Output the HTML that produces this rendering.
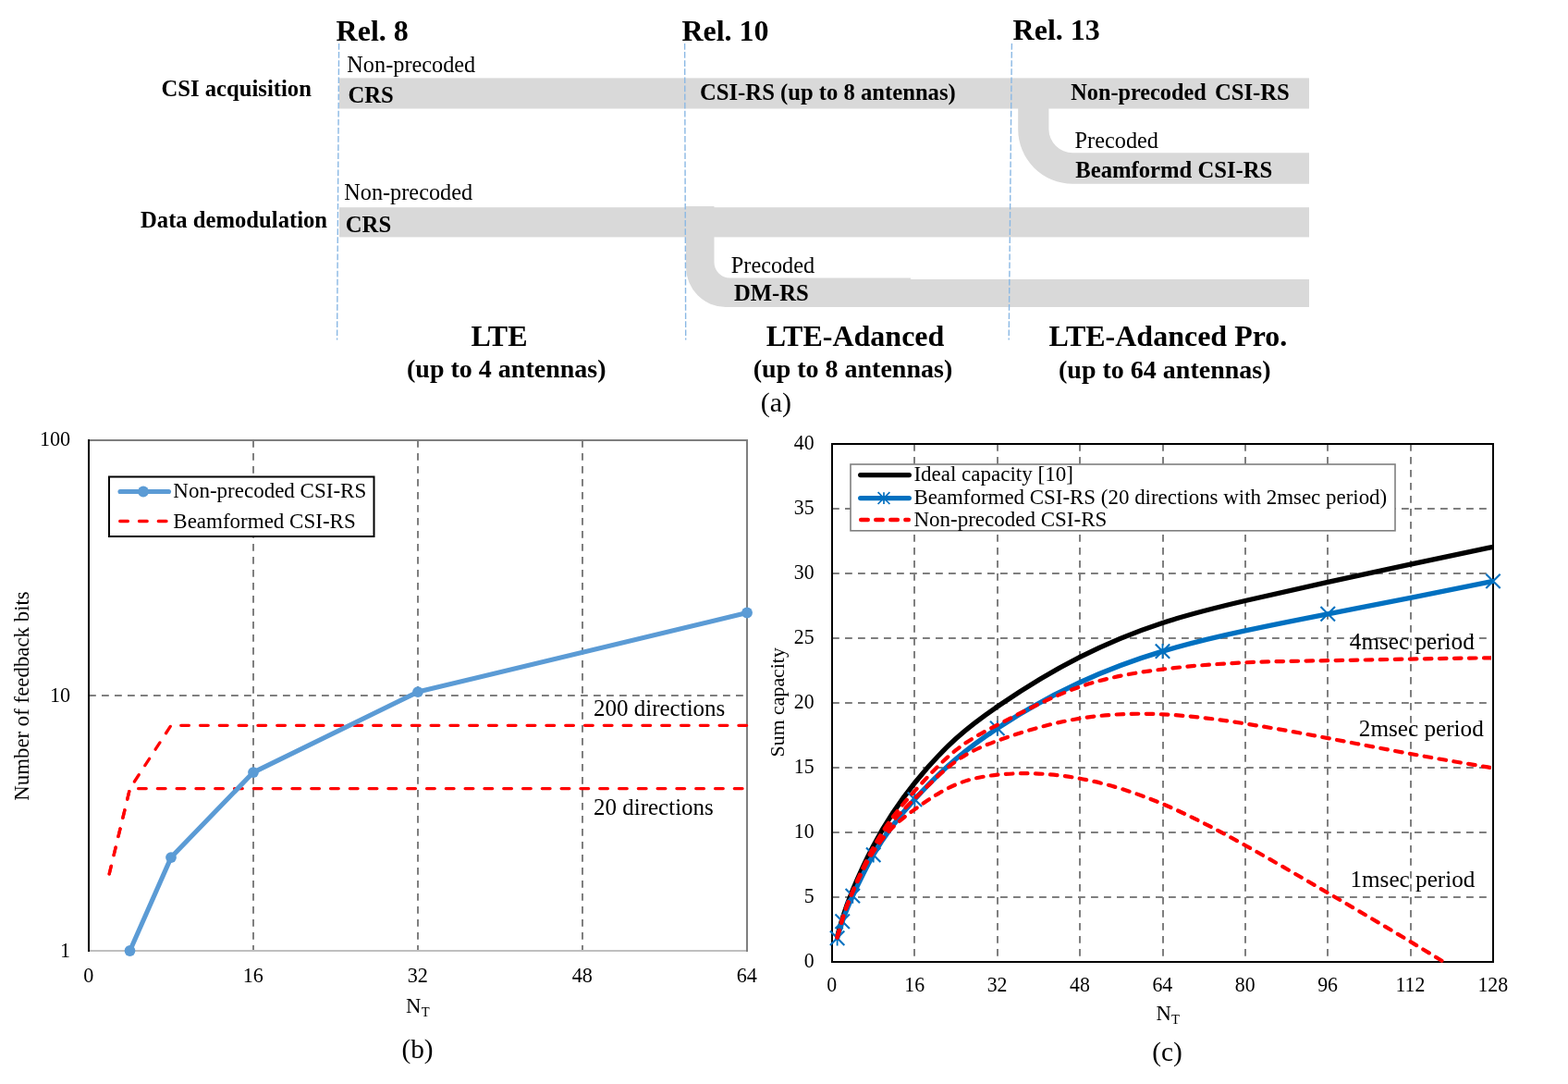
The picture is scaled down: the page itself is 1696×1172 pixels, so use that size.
<!DOCTYPE html>
<html lang="en">
<head>
<meta charset="utf-8">
<title>Reference signals in LTE, LTE-Advanced and LTE-Advanced Pro</title>
<style>
html,body{margin:0;padding:0;background:#fff;}
body{width:1696px;height:1172px;overflow:hidden;}
svg{display:block;font-family:"Liberation Serif", "DejaVu Serif", serif;fill:#000;}
text{white-space:pre;}
</style>
</head>
<body>
<svg width="1696" height="1172" viewBox="0 0 1696 1172" role="img" aria-label="Evolution of LTE reference signals, feedback bits and sum capacity charts">
<rect x="0" y="0" width="1696" height="1172" fill="#ffffff"/>
<g id="panel-a">
<rect x="367" y="84.4" width="1049" height="33.1" fill="#d9d9d9"/>
<path d="M1101.2,117 V139.7 A59,59 0 0 0 1160.2,198.7 H1416 V165.3 H1160.2 A26,26 0 0 1 1134.4,139.7 V117 Z" fill="#d9d9d9"/>
<rect x="367" y="224.2" width="1049" height="32.2" fill="#d9d9d9"/>
<path d="M742,223 H772.5 V283.5 A17,17 0 0 0 789.5,300.6 H985 V302 H1416 V331.9 H785 A43,43 0 0 1 742,288.9 Z" fill="#d9d9d9"/>
<line x1="366.6" y1="47" x2="364.6" y2="367.5" stroke="#8ab8e4" stroke-width="1.4" stroke-dasharray="6.7 2.4"/>
<line x1="740.6" y1="47" x2="741.7" y2="367.5" stroke="#8ab8e4" stroke-width="1.4" stroke-dasharray="6.7 2.4"/>
<line x1="1094.4" y1="47" x2="1091.2" y2="367.5" stroke="#8ab8e4" stroke-width="1.4" stroke-dasharray="6.7 2.4"/>
<text x="363.60" y="44.40" font-size="32" font-weight="bold">Rel. 8</text>
<text x="737.40" y="44.40" font-size="32" font-weight="bold">Rel. 10</text>
<text x="1095.60" y="42.50" font-size="32" font-weight="bold">Rel. 13</text>
<text x="174.50" y="103.80" font-size="24.67" font-weight="bold">CSI acquisition</text>
<text x="152.00" y="245.60" font-size="24.67" font-weight="bold">Data demodulation</text>
<text x="375.30" y="77.50" font-size="24.3">Non-precoded</text>
<text x="376.40" y="110.60" font-size="24.67" font-weight="bold">CRS</text>
<text x="757.00" y="107.50" font-size="24.67" font-weight="bold">CSI-RS (up to 8 antennas)</text>
<text x="1158.3" y="107.5" font-size="24.25" font-weight="bold">Non-precoded <tspan x="1313.9" font-size="24.67">CSI-RS</tspan></text>
<text x="1162.60" y="160.00" font-size="24.3">Precoded</text>
<text x="1163.30" y="191.90" font-size="24.67" font-weight="bold">Beamformd CSI-RS</text>
<text x="372.20" y="216.20" font-size="24.3">Non-precoded</text>
<text x="373.80" y="251.20" font-size="24.67" font-weight="bold">CRS</text>
<text x="790.80" y="295.00" font-size="24.3">Precoded</text>
<text x="794.00" y="325.00" font-size="24.67" font-weight="bold">DM-RS</text>
<text x="540.00" y="373.80" font-size="32" font-weight="bold" text-anchor="middle">LTE</text>
<text x="547.80" y="407.50" font-size="28" font-weight="bold" text-anchor="middle">(up to 4 antennas)</text>
<text x="925.00" y="373.80" font-size="32" font-weight="bold" text-anchor="middle">LTE-Adanced</text>
<text x="922.50" y="408.00" font-size="28" font-weight="bold" text-anchor="middle">(up to 8 antennas)</text>
<text x="1263.40" y="373.80" font-size="32" font-weight="bold" text-anchor="middle">LTE-Adanced Pro.</text>
<text x="1259.80" y="408.70" font-size="28" font-weight="bold" text-anchor="middle">(up to 64 antennas)</text>
<text x="839.40" y="445.00" font-size="30" text-anchor="middle">(a)</text>
</g>
<g id="panel-b">
<line x1="274.0" y1="476.0" x2="274.0" y2="1028.0" stroke="#7f7f7f" stroke-width="2" stroke-dasharray="7.8 6.2"/>
<line x1="452.0" y1="476.0" x2="452.0" y2="1028.0" stroke="#7f7f7f" stroke-width="2" stroke-dasharray="7.8 6.2"/>
<line x1="630.0" y1="476.0" x2="630.0" y2="1028.0" stroke="#7f7f7f" stroke-width="2" stroke-dasharray="7.8 6.2"/>
<line x1="96.0" y1="752.0" x2="808.0" y2="752.0" stroke="#7f7f7f" stroke-width="2" stroke-dasharray="7.8 6.2"/>
<line x1="96.0" y1="1028.0" x2="808.0" y2="1028.0" stroke="#bfbfbf" stroke-width="2"/>
<polyline points="96.0,476.0 808.0,476.0 808.0,1029.0" fill="none" stroke="#7f7f7f" stroke-width="2"/>
<line x1="96.0" y1="475.0" x2="96.0" y2="1029.0" stroke="#000" stroke-width="2"/>
<polyline points="118.2,944.9 140.5,852.6 185.0,784.3 808.0,784.3" fill="none" stroke="#ff0000" stroke-width="3.3" stroke-dasharray="8.7 12.1" stroke-linecap="round" stroke-linejoin="round"/>
<polyline points="118.2,944.9 140.5,852.6 808.0,852.6" fill="none" stroke="#ff0000" stroke-width="3.3" stroke-dasharray="8.7 12.1" stroke-linecap="round" stroke-linejoin="round"/>
<polyline points="140.5,1028.0 185.0,927.1 274.0,835.1 452.0,748.1 808.0,662.5" fill="none" stroke="#5b9bd5" stroke-width="5.1" stroke-linecap="round" stroke-linejoin="round"/>
<circle cx="140.5" cy="1028.0" r="5.9" fill="#5b9bd5"/>
<circle cx="185.0" cy="927.1" r="5.9" fill="#5b9bd5"/>
<circle cx="274.0" cy="835.1" r="5.9" fill="#5b9bd5"/>
<circle cx="452.0" cy="748.1" r="5.9" fill="#5b9bd5"/>
<circle cx="808.0" cy="662.5" r="5.9" fill="#5b9bd5"/>
<rect x="118" y="515.5" width="286.5" height="64.5" fill="#fff" stroke="#000" stroke-width="2"/>
<line x1="130" y1="531.5" x2="182.5" y2="531.5" stroke="#5b9bd5" stroke-width="5.1" stroke-linecap="round"/>
<circle cx="155" cy="531.5" r="5.9" fill="#5b9bd5"/>
<line x1="129.7" y1="563.5" x2="180.4" y2="563.5" stroke="#ff0000" stroke-width="3.3" stroke-dasharray="8.7 12.1" stroke-linecap="round"/>
<text x="187.30" y="537.50" font-size="23">Non-precoded CSI-RS</text>
<text x="187.30" y="570.50" font-size="23">Beamformed CSI-RS</text>
<text x="642.00" y="773.80" font-size="25">200 directions</text>
<text x="642.00" y="880.60" font-size="25">20 directions</text>
<text transform="translate(76.20,1034.80) scale(0.97,1)" font-size="22.9" text-anchor="end">1</text>
<text transform="translate(76.20,758.80) scale(0.97,1)" font-size="22.9" text-anchor="end">10</text>
<text transform="translate(76.20,481.90) scale(0.97,1)" font-size="22.9" text-anchor="end">100</text>
<text transform="translate(95.80,1062.30) scale(0.97,1)" font-size="22.9" text-anchor="middle">0</text>
<text transform="translate(273.80,1062.30) scale(0.97,1)" font-size="22.9" text-anchor="middle">16</text>
<text transform="translate(451.80,1062.30) scale(0.97,1)" font-size="22.9" text-anchor="middle">32</text>
<text transform="translate(629.80,1062.30) scale(0.97,1)" font-size="22.9" text-anchor="middle">48</text>
<text transform="translate(807.80,1062.30) scale(0.97,1)" font-size="22.9" text-anchor="middle">64</text>
<text x="439" y="1095" font-size="22.67">N<tspan font-size="14.6" dx="0.3" dy="4.4">T</tspan></text>
<text transform="translate(31.2,752.5) rotate(-90)" font-size="22.85" text-anchor="middle">Number of feedback bits</text>
<text x="451.50" y="1143.80" font-size="29.33" text-anchor="middle">(b)</text>
</g>
<g id="panel-c">
<line x1="989" y1="480.0" x2="989" y2="1040.0" stroke="#7f7f7f" stroke-width="2" stroke-dasharray="7.8 6.2"/>
<line x1="1079" y1="480.0" x2="1079" y2="1040.0" stroke="#7f7f7f" stroke-width="2" stroke-dasharray="7.8 6.2"/>
<line x1="1168" y1="480.0" x2="1168" y2="1040.0" stroke="#7f7f7f" stroke-width="2" stroke-dasharray="7.8 6.2"/>
<line x1="1258" y1="480.0" x2="1258" y2="1040.0" stroke="#7f7f7f" stroke-width="2" stroke-dasharray="7.8 6.2"/>
<line x1="1347" y1="480.0" x2="1347" y2="1040.0" stroke="#7f7f7f" stroke-width="2" stroke-dasharray="7.8 6.2"/>
<line x1="1436" y1="480.0" x2="1436" y2="1040.0" stroke="#7f7f7f" stroke-width="2" stroke-dasharray="7.8 6.2"/>
<line x1="1526" y1="480.0" x2="1526" y2="1040.0" stroke="#7f7f7f" stroke-width="2" stroke-dasharray="7.8 6.2"/>
<line x1="900.0" y1="970" x2="1615.0" y2="970" stroke="#7f7f7f" stroke-width="2" stroke-dasharray="7.8 6.2"/>
<line x1="900.0" y1="900" x2="1615.0" y2="900" stroke="#7f7f7f" stroke-width="2" stroke-dasharray="7.8 6.2"/>
<line x1="900.0" y1="830" x2="1615.0" y2="830" stroke="#7f7f7f" stroke-width="2" stroke-dasharray="7.8 6.2"/>
<line x1="900.0" y1="760" x2="1615.0" y2="760" stroke="#7f7f7f" stroke-width="2" stroke-dasharray="7.8 6.2"/>
<line x1="900.0" y1="690" x2="1615.0" y2="690" stroke="#7f7f7f" stroke-width="2" stroke-dasharray="7.8 6.2"/>
<line x1="900.0" y1="620" x2="1615.0" y2="620" stroke="#7f7f7f" stroke-width="2" stroke-dasharray="7.8 6.2"/>
<line x1="900.0" y1="550" x2="1615.0" y2="550" stroke="#7f7f7f" stroke-width="2" stroke-dasharray="7.8 6.2"/>
<rect x="900.0" y="480.0" width="715.0" height="560.0" fill="none" stroke="#000" stroke-width="2"/>
<clipPath id="clipc"><rect x="899" y="479" width="717" height="562"/></clipPath>
<clipPath id="clipr"><rect x="899" y="479" width="714" height="562"/></clipPath>
<g clip-path="url(#clipc)" fill="none" stroke-linecap="round" stroke-linejoin="round">
<path d="M905.59,1012.70 C907.45,1005.95 909.31,999.20 911.17,993.10 C914.90,980.90 918.62,971.32 922.34,962.30 C929.79,944.26 937.24,928.47 944.69,914.42 C959.58,886.31 974.48,865.12 989.38,846.52 C1004.27,827.92 1019.17,811.91 1034.06,798.50 C1048.96,785.09 1063.85,774.28 1078.75,764.06 C1108.54,743.62 1138.33,725.55 1168.12,710.44 C1197.92,695.33 1227.71,683.19 1257.50,673.48 C1287.29,663.77 1317.08,656.50 1346.88,649.54 C1376.67,642.58 1406.46,635.93 1436.25,629.38 C1466.04,622.83 1495.83,616.39 1525.62,610.06 C1555.42,603.73 1585.21,597.52 1615.00,591.30" stroke="#000" stroke-width="5.3"/>
<path d="M905.59,1014.24 C907.45,1007.99 909.31,1001.74 911.17,996.18 C914.90,985.06 918.62,976.70 922.34,968.60 C929.79,952.40 937.24,937.27 944.69,924.22 C959.58,898.13 974.48,880.40 989.38,864.16 C1004.27,847.92 1019.17,833.15 1034.06,820.48 C1048.96,807.81 1063.85,797.23 1078.75,787.44 C1108.54,767.86 1138.33,751.43 1168.12,737.74 C1197.92,724.05 1227.71,713.08 1257.50,704.14 C1287.29,695.20 1317.08,688.28 1346.88,681.88 C1376.67,675.48 1406.46,669.60 1436.25,663.82 C1466.04,658.04 1495.83,652.35 1525.62,646.46 C1555.42,640.57 1585.21,634.49 1615.00,628.40" stroke="#0070c0" stroke-width="5.3"/>
</g>
<path d="M897.9,1006.5 L913.3,1021.9 M897.9,1021.9 L913.3,1006.5 M903.5,988.5 L918.9,1003.9 M903.5,1003.9 L918.9,988.5 M914.6,960.9 L930.0,976.3 M914.6,976.3 L930.0,960.9 M937.0,916.5 L952.4,931.9 M937.0,931.9 L952.4,916.5 M981.7,856.5 L997.1,871.9 M981.7,871.9 L997.1,856.5 M1071.0,779.7 L1086.5,795.1 M1071.0,795.1 L1086.5,779.7 M1249.8,696.4 L1265.2,711.8 M1249.8,711.8 L1265.2,696.4 M1428.5,656.1 L1444.0,671.5 M1428.5,671.5 L1444.0,656.1 M1607.3,620.7 L1622.7,636.1 M1607.3,636.1 L1622.7,620.7" fill="none" stroke="#0070c0" stroke-width="2.1"/>
<path d="M905.6,1006.0 L905.6,1022.4 M911.2,988.0 L911.2,1004.4 M922.3,960.4 L922.3,976.8 M944.7,916.0 L944.7,932.4 M989.4,856.0 L989.4,872.4 M1078.8,779.2 L1078.8,795.6 M1257.5,695.9 L1257.5,712.3" fill="none" stroke="#0070c0" stroke-width="1.8"/>
<g clip-path="url(#clipr)" fill="none" stroke-linecap="round" stroke-linejoin="round">
<path d="M905.59,1013.40 C907.45,1006.62 909.31,999.85 911.17,993.80 C914.90,981.71 918.62,972.53 922.34,963.70 C929.79,946.04 937.24,929.78 944.69,916.10 C959.58,888.74 974.48,871.69 989.38,855.20 C1004.27,838.71 1019.17,822.76 1034.06,810.96 C1048.96,799.16 1063.85,791.50 1078.75,783.80 C1108.54,768.39 1138.33,752.79 1168.12,742.50 C1197.92,732.21 1227.71,727.25 1257.50,723.60 C1287.29,719.95 1317.08,717.63 1346.88,716.32 C1376.67,715.01 1406.46,714.71 1436.25,714.22 C1466.04,713.73 1495.83,713.06 1525.62,712.54 C1555.42,712.02 1585.21,711.65 1615.00,711.28" stroke="#ff0000" stroke-width="4.2" stroke-dasharray="7.6 8.44"/>
<path d="M905.59,1013.40 C907.45,1006.63 909.31,999.85 911.17,993.80 C914.90,981.70 918.62,972.48 922.34,963.70 C929.79,946.14 937.24,930.33 944.69,917.50 C959.58,891.85 974.48,878.14 989.38,863.60 C1004.27,849.06 1019.17,833.69 1034.06,823.00 C1048.96,812.31 1063.85,806.30 1078.75,800.88 C1108.54,790.05 1138.33,781.59 1168.12,776.80 C1197.92,772.01 1227.71,770.89 1257.50,772.32 C1287.29,773.75 1317.08,777.72 1346.88,782.40 C1376.67,787.08 1406.46,792.45 1436.25,798.08 C1466.04,803.71 1495.83,809.59 1525.62,815.02 C1555.42,820.45 1585.21,825.44 1615.00,830.42" stroke="#ff0000" stroke-width="4.2" stroke-dasharray="7.6 8.44"/>
<path d="M905.59,1013.40 C907.45,1006.61 909.31,999.82 911.17,993.80 C914.90,981.76 918.62,972.82 922.34,964.40 C929.79,947.55 937.24,932.78 944.69,921.00 C959.58,897.43 974.48,885.82 989.38,875.08 C1004.27,864.34 1019.17,854.48 1034.06,848.20 C1048.96,841.92 1063.85,839.23 1078.75,837.70 C1108.54,834.65 1138.33,836.26 1168.12,841.76 C1197.92,847.26 1227.71,856.65 1257.50,869.20 C1287.29,881.75 1317.08,897.45 1346.88,914.00 C1376.67,930.55 1406.46,947.96 1436.25,965.38 C1466.04,982.80 1495.83,1000.24 1525.62,1018.16 C1555.42,1036.08 1585.21,1054.49 1615.00,1072.90" stroke="#ff0000" stroke-width="4.2" stroke-dasharray="7.6 8.44"/>
</g>
<rect x="920" y="502" width="589" height="71.8" fill="#fff" stroke="#7f7f7f" stroke-width="1.6"/>
<line x1="930.7" y1="513.6" x2="983.3" y2="513.6" stroke="#000" stroke-width="5.3" stroke-linecap="round"/>
<line x1="930.7" y1="538.6" x2="983.3" y2="538.6" stroke="#0070c0" stroke-width="5.3" stroke-linecap="round"/>
<path d="M949.6,532.2 L962.4,545.0 M949.6,545.0 L962.4,532.2 M956.0,532.2 L956.0,545.0" fill="none" stroke="#0070c0" stroke-width="1.7"/>
<line x1="931.2" y1="562" x2="982.8" y2="562" stroke="#ff0000" stroke-width="4.4" stroke-dasharray="7.6 8.44" stroke-linecap="round"/>
<text x="988.40" y="519.80" font-size="23">Ideal capacity [10]</text>
<text x="988.40" y="544.80" font-size="22.93">Beamformed CSI-RS (20 directions with 2msec period)</text>
<text x="988.40" y="569.00" font-size="23">Non-precoded CSI-RS</text>
<text x="1459.80" y="702.40" font-size="25.2">4msec period</text>
<text x="1469.80" y="795.80" font-size="25.2">2msec period</text>
<text x="1460.40" y="959.20" font-size="25.2">1msec period</text>
<text transform="translate(880.60,1045.80) scale(0.95,1)" font-size="23" text-anchor="end">0</text>
<text transform="translate(880.60,975.80) scale(0.95,1)" font-size="23" text-anchor="end">5</text>
<text transform="translate(880.60,905.80) scale(0.95,1)" font-size="23" text-anchor="end">10</text>
<text transform="translate(880.60,835.80) scale(0.95,1)" font-size="23" text-anchor="end">15</text>
<text transform="translate(880.60,765.80) scale(0.95,1)" font-size="23" text-anchor="end">20</text>
<text transform="translate(880.60,695.80) scale(0.95,1)" font-size="23" text-anchor="end">25</text>
<text transform="translate(880.60,625.80) scale(0.95,1)" font-size="23" text-anchor="end">30</text>
<text transform="translate(880.60,555.80) scale(0.95,1)" font-size="23" text-anchor="end">35</text>
<text transform="translate(880.60,485.80) scale(0.95,1)" font-size="23" text-anchor="end">40</text>
<text transform="translate(899.80,1072.40) scale(0.95,1)" font-size="23" text-anchor="middle">0</text>
<text transform="translate(989.17,1072.40) scale(0.95,1)" font-size="23" text-anchor="middle">16</text>
<text transform="translate(1078.55,1072.40) scale(0.95,1)" font-size="23" text-anchor="middle">32</text>
<text transform="translate(1167.92,1072.40) scale(0.95,1)" font-size="23" text-anchor="middle">48</text>
<text transform="translate(1257.30,1072.40) scale(0.95,1)" font-size="23" text-anchor="middle">64</text>
<text transform="translate(1346.67,1072.40) scale(0.95,1)" font-size="23" text-anchor="middle">80</text>
<text transform="translate(1436.05,1072.40) scale(0.95,1)" font-size="23" text-anchor="middle">96</text>
<text transform="translate(1525.42,1072.40) scale(0.95,1)" font-size="23" text-anchor="middle">112</text>
<text transform="translate(1614.80,1072.40) scale(0.95,1)" font-size="23" text-anchor="middle">128</text>
<text x="1250.4" y="1103" font-size="22.67">N<tspan font-size="14.6" dx="0.3" dy="4.2">T</tspan></text>
<text transform="translate(847.7,759.3) rotate(-90)" font-size="21.85" text-anchor="middle">Sum capacity</text>
<text x="1262.60" y="1146.80" font-size="29.33" text-anchor="middle">(c)</text>
</g>
</svg>
</body>
</html>
